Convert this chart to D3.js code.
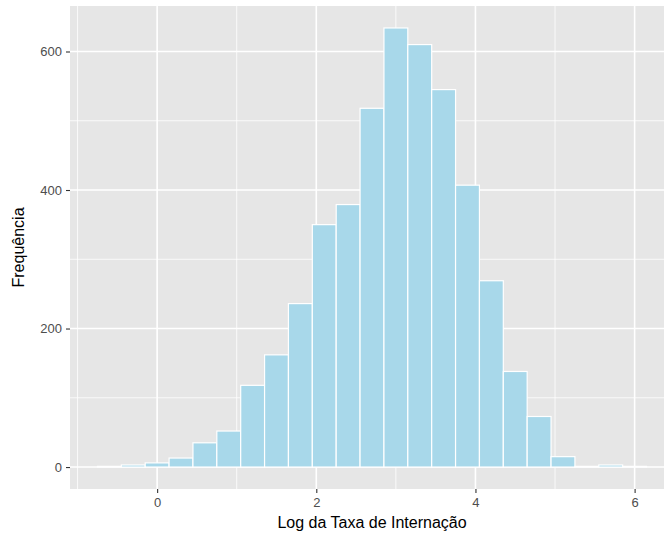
<!DOCTYPE html>
<html>
<head>
<meta charset="utf-8">
<script src="https://cdn.jsdelivr.net/npm/d3@7"></script>
<style>
  body { margin: 0; background: #fff; }
  svg { display: block; font-family: "Liberation Sans", Arial, sans-serif; }
</style>
</head>
<body>
<svg id="chart" width="664" height="540"></svg>
<script>
// histogram bins (left edge of each bin, width 0.3) and counts
const binWidth = 0.3;
const binStarts = [-0.75, -0.45, -0.15, 0.15, 0.45, 0.75, 1.05, 1.35, 1.65, 1.95, 2.25, 2.55,
                   2.85, 3.15, 3.45, 3.75, 4.05, 4.35, 4.65, 4.95, 5.25, 5.55, 5.85];
const counts = [1, 3, 6, 13, 35, 52, 118, 162, 236, 350, 379, 518,
                634, 610, 545, 407, 269, 138, 73, 15, 1, 3, 1];
const xTicks = [0, 2, 4, 6];
const xMinor = [-1, 1, 3, 5];
const yTicks = [0, 200, 400, 600];
const yMinor = [100, 300, 500];

const svg = d3.select("#chart");
const panelL = 70, panelR = 674, panelT = 6, panelB = 489;

const xLo = binStarts[0], xHi = binStarts[binStarts.length - 1] + binWidth;
const xPad = (xHi - xLo) * 0.05;
const x = d3.scaleLinear().domain([xLo - xPad, xHi + xPad]).range([panelL, panelR]);
const yMax = d3.max(counts);
const y = d3.scaleLinear().domain([-yMax * 0.05, yMax * 1.05]).range([panelB, panelT]);

// panel
svg.append("rect")
    .attr("x", panelL).attr("y", panelT)
    .attr("width", panelR - panelL).attr("height", panelB - panelT)
    .attr("fill", "#E6E6E6");

const grid = svg.append("g");
grid.selectAll(".xminor").data(xMinor).join("line")
    .attr("x1", d => x(d)).attr("x2", d => x(d))
    .attr("y1", panelT).attr("y2", panelB)
    .attr("stroke", "#fff").attr("stroke-width", 0.8);
grid.selectAll(".yminor").data(yMinor).join("line")
    .attr("x1", panelL).attr("x2", panelR)
    .attr("y1", d => y(d)).attr("y2", d => y(d))
    .attr("stroke", "#fff").attr("stroke-width", 0.8);
grid.selectAll(".xmajor").data(xTicks).join("line")
    .attr("x1", d => x(d)).attr("x2", d => x(d))
    .attr("y1", panelT).attr("y2", panelB)
    .attr("stroke", "#fff").attr("stroke-width", 1.6);
grid.selectAll(".ymajor").data(yTicks).join("line")
    .attr("x1", panelL).attr("x2", panelR)
    .attr("y1", d => y(d)).attr("y2", d => y(d))
    .attr("stroke", "#fff").attr("stroke-width", 1.6);

// bars
svg.append("g").selectAll("rect")
    .data(binStarts.map((s, i) => ({ s: s, n: counts[i] })))
    .join("rect")
    .attr("x", d => x(d.s))
    .attr("y", d => y(d.n))
    .attr("width", d => x(d.s + binWidth) - x(d.s))
    .attr("height", d => y(0) - y(d.n))
    .attr("fill", "#A8D8EA")
    .attr("stroke", "#fff")
    .attr("stroke-width", 1.2);

// axes
const xAxis = svg.append("g")
    .attr("transform", `translate(0,${panelB})`)
    .call(d3.axisBottom(x).tickValues(xTicks).tickSize(4).tickPadding(5));
const yAxis = svg.append("g")
    .attr("transform", `translate(${panelL},0)`)
    .call(d3.axisLeft(y).tickValues(yTicks).tickSize(4).tickPadding(4));
[xAxis, yAxis].forEach(a => {
    a.select(".domain").remove();
    a.selectAll(".tick line").attr("stroke", "#333").attr("stroke-width", 1.1);
    a.selectAll(".tick text").attr("fill", "#4D4D4D").style("font-size", "13px")
        .style("font-family", "Liberation Sans, Arial, sans-serif");
});

// titles
svg.append("text")
    .attr("x", (panelL + panelR) / 2).attr("y", 528)
    .attr("text-anchor", "middle")
    .style("font-size", "16px")
    .text("Log da Taxa de Internação");
svg.append("text")
    .attr("transform", `translate(24,${(panelT + panelB) / 2}) rotate(-90)`)
    .attr("text-anchor", "middle")
    .style("font-size", "16px")
    .text("Frequência");
</script>
</body>
</html>
